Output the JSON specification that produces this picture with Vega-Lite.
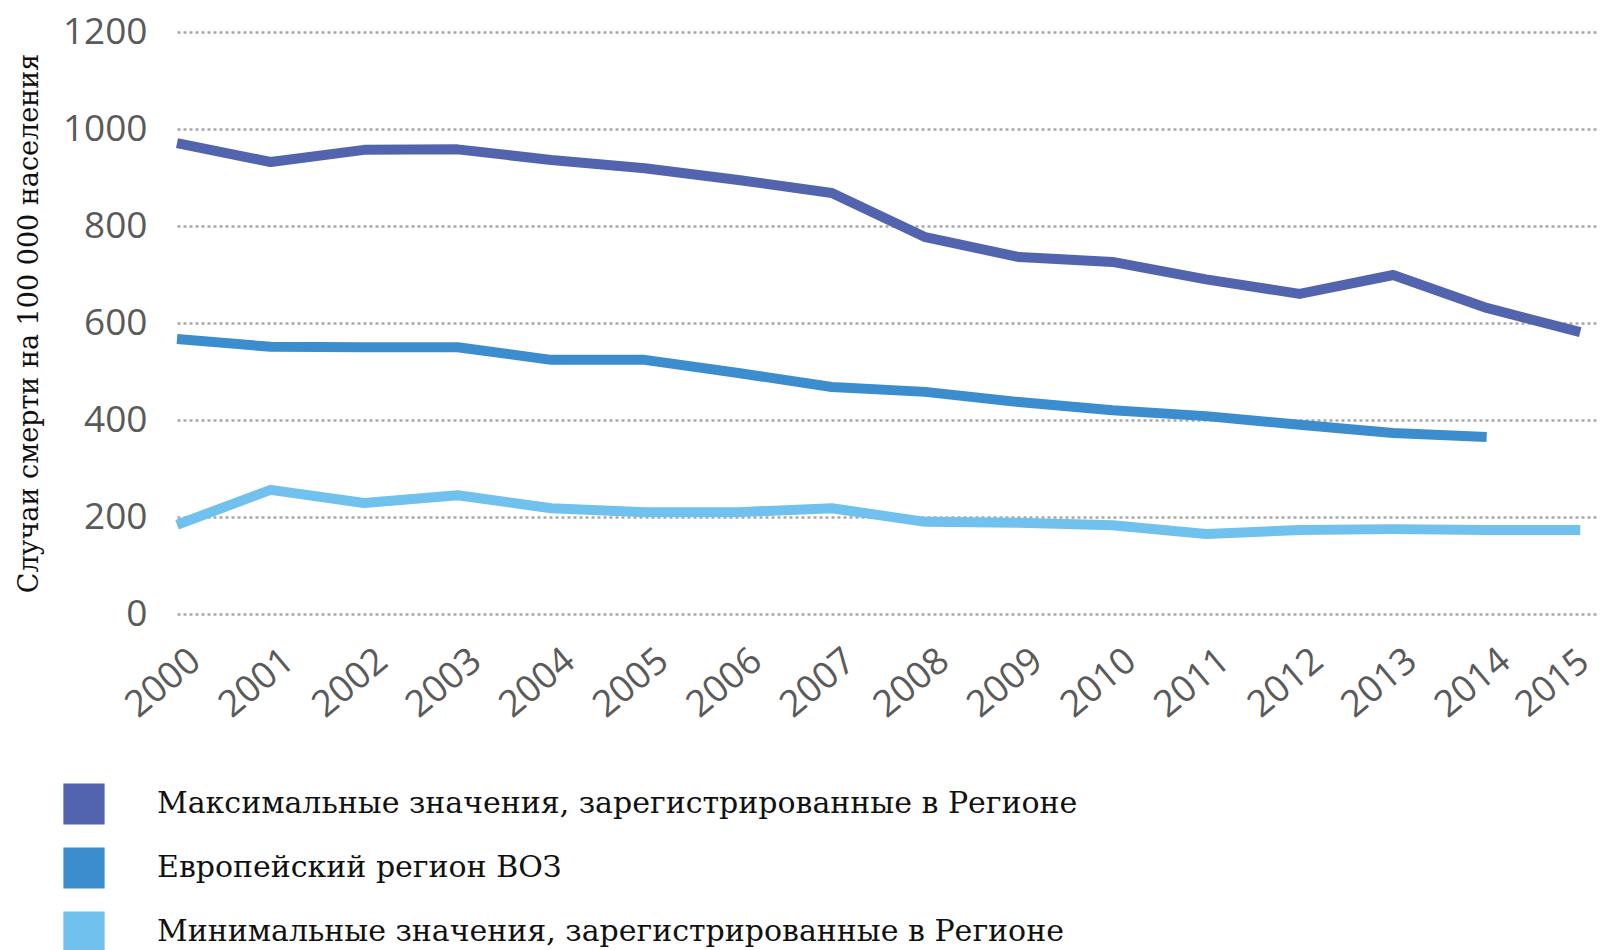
{
  "$schema": "https://vega.github.io/schema/vega-lite/v6.json",
  "autosize": {"type": "none"},
  "padding": {"left": 177, "top": 32, "right": 5, "bottom": 336},
  "width": 1421,
  "height": 582,
  "background": "white",
  "data": {
    "values": [
      {"year": 2000, "value": 971, "series": "Максимальные значения, зарегистрированные в Регионе"},
      {"year": 2001, "value": 932, "series": "Максимальные значения, зарегистрированные в Регионе"},
      {"year": 2002, "value": 957, "series": "Максимальные значения, зарегистрированные в Регионе"},
      {"year": 2003, "value": 958, "series": "Максимальные значения, зарегистрированные в Регионе"},
      {"year": 2004, "value": 936, "series": "Максимальные значения, зарегистрированные в Регионе"},
      {"year": 2005, "value": 919, "series": "Максимальные значения, зарегистрированные в Регионе"},
      {"year": 2006, "value": 895, "series": "Максимальные значения, зарегистрированные в Регионе"},
      {"year": 2007, "value": 868, "series": "Максимальные значения, зарегистрированные в Регионе"},
      {"year": 2008, "value": 777, "series": "Максимальные значения, зарегистрированные в Регионе"},
      {"year": 2009, "value": 736, "series": "Максимальные значения, зарегистрированные в Регионе"},
      {"year": 2010, "value": 726, "series": "Максимальные значения, зарегистрированные в Регионе"},
      {"year": 2011, "value": 690, "series": "Максимальные значения, зарегистрированные в Регионе"},
      {"year": 2012, "value": 660, "series": "Максимальные значения, зарегистрированные в Регионе"},
      {"year": 2013, "value": 699, "series": "Максимальные значения, зарегистрированные в Регионе"},
      {"year": 2014, "value": 631, "series": "Максимальные значения, зарегистрированные в Регионе"},
      {"year": 2015, "value": 581, "series": "Максимальные значения, зарегистрированные в Регионе"},
      {"year": 2000, "value": 567, "series": "Европейский регион ВОЗ"},
      {"year": 2001, "value": 551, "series": "Европейский регион ВОЗ"},
      {"year": 2002, "value": 550, "series": "Европейский регион ВОЗ"},
      {"year": 2003, "value": 550, "series": "Европейский регион ВОЗ"},
      {"year": 2004, "value": 524, "series": "Европейский регион ВОЗ"},
      {"year": 2005, "value": 524, "series": "Европейский регион ВОЗ"},
      {"year": 2006, "value": 497, "series": "Европейский регион ВОЗ"},
      {"year": 2007, "value": 468, "series": "Европейский регион ВОЗ"},
      {"year": 2008, "value": 458, "series": "Европейский регион ВОЗ"},
      {"year": 2009, "value": 437, "series": "Европейский регион ВОЗ"},
      {"year": 2010, "value": 420, "series": "Европейский регион ВОЗ"},
      {"year": 2011, "value": 408, "series": "Европейский регион ВОЗ"},
      {"year": 2012, "value": 390, "series": "Европейский регион ВОЗ"},
      {"year": 2013, "value": 373, "series": "Европейский регион ВОЗ"},
      {"year": 2014, "value": 365, "series": "Европейский регион ВОЗ"},
      {"year": 2000, "value": 184, "series": "Минимальные значения, зарегистрированные в Регионе"},
      {"year": 2001, "value": 256, "series": "Минимальные значения, зарегистрированные в Регионе"},
      {"year": 2002, "value": 229, "series": "Минимальные значения, зарегистрированные в Регионе"},
      {"year": 2003, "value": 245, "series": "Минимальные значения, зарегистрированные в Регионе"},
      {"year": 2004, "value": 218, "series": "Минимальные значения, зарегистрированные в Регионе"},
      {"year": 2005, "value": 210, "series": "Минимальные значения, зарегистрированные в Регионе"},
      {"year": 2006, "value": 210, "series": "Минимальные значения, зарегистрированные в Регионе"},
      {"year": 2007, "value": 218, "series": "Минимальные значения, зарегистрированные в Регионе"},
      {"year": 2008, "value": 190, "series": "Минимальные значения, зарегистрированные в Регионе"},
      {"year": 2009, "value": 188, "series": "Минимальные значения, зарегистрированные в Регионе"},
      {"year": 2010, "value": 183, "series": "Минимальные значения, зарегистрированные в Регионе"},
      {"year": 2011, "value": 165, "series": "Минимальные значения, зарегистрированные в Регионе"},
      {"year": 2012, "value": 173, "series": "Минимальные значения, зарегистрированные в Регионе"},
      {"year": 2013, "value": 175, "series": "Минимальные значения, зарегистрированные в Регионе"},
      {"year": 2014, "value": 173, "series": "Минимальные значения, зарегистрированные в Регионе"},
      {"year": 2015, "value": 173, "series": "Минимальные значения, зарегистрированные в Регионе"}
    ]
  },
  "mark": {"type": "line", "strokeWidth": 10, "strokeCap": "butt", "strokeJoin": "round"},
  "encoding": {
    "x": {
      "field": "year",
      "type": "quantitative",
      "scale": {"domain": [2000, 2015.19], "nice": false, "zero": false},
      "axis": {
        "title": null,
        "values": [2000, 2001, 2002, 2003, 2004, 2005, 2006, 2007, 2008, 2009, 2010, 2011, 2012, 2013, 2014, 2015],
        "format": "d",
        "grid": false,
        "domain": false,
        "ticks": false,
        "tickSize": 0,
        "labelAngle": -40,
        "labelAlign": "center",
        "labelBaseline": "middle",
        "labelPadding": 69,
        "labelOffset": {"condition": {"test": "datum.value == 2015", "value": -28}, "value": -14},
        "labelFont": "Open Sans",
        "labelFontSize": {"condition": {"test": "datum.value == 2015", "value": 36}, "value": 37},
        "labelColor": "#5a5a5a",
        "labelOverlap": false,
        "labelBound": false,
        "labelFlush": false
      }
    },
    "y": {
      "field": "value",
      "type": "quantitative",
      "scale": {"domain": [0, 1200], "nice": false},
      "axis": {
        "title": "Случаи смерти на 100 000 населения",
        "titleFont": "DejaVu Serif",
        "titleFontSize": 27,
        "titleFontWeight": "normal",
        "titleColor": "#111111",
        "titleX": -148,
        "titleBaseline": "middle",
        "values": [0, 200, 400, 600, 800, 1000, 1200],
        "format": "d",
        "domain": false,
        "ticks": false,
        "tickSize": 0,
        "labelPadding": 30,
        "labelFont": "Open Sans",
        "labelFontSize": 37,
        "labelColor": "#5a5a5a",
        "labelBaseline": "middle",
        "grid": true,
        "gridColor": "#a8a8a8",
        "gridDash": [3, 3],
        "gridWidth": 2.5
      }
    },
    "color": {
      "field": "series",
      "type": "nominal",
      "sort": null,
      "scale": {
        "domain": ["Максимальные значения, зарегистрированные в Регионе", "Европейский регион ВОЗ", "Минимальные значения, зарегистрированные в Регионе"],
        "range": ["#5264AE", "#3C8DCE", "#70C1EE"]
      },
      "legend": {
        "title": null,
        "orient": "none",
        "legendX": -114,
        "legendY": 751,
        "direction": "vertical",
        "symbolType": "square",
        "symbolSize": 1700,
        "symbolStrokeWidth": 0,
        "symbolOpacity": 1,
        "labelFont": "DejaVu Serif",
        "labelFontSize": 30,
        "labelColor": "#111111",
        "labelLimit": 1500,
        "labelOffset": 52,
        "rowPadding": 22,
        "encode": {
          "symbols": {
            "update": {
              "fill": {"scale": "color", "field": "value"},
              "fillOpacity": {"value": 1},
              "strokeWidth": {"value": 0}
            }
          }
        }
      }
    }
  },
  "config": {"view": {"stroke": null}}
}
